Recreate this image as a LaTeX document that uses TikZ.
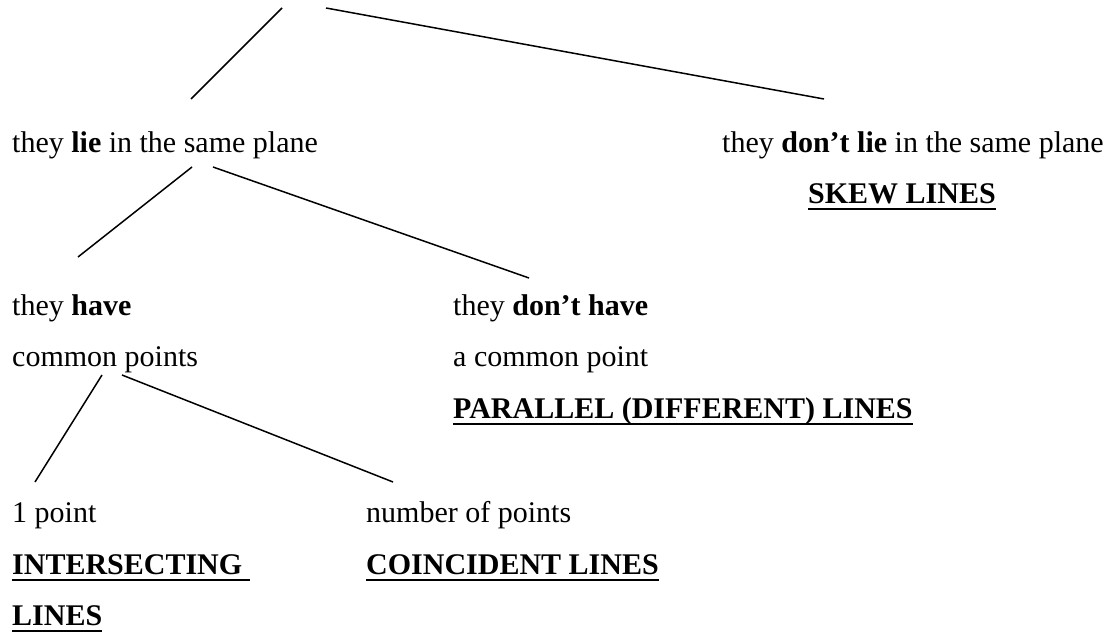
\documentclass[tikz,border=0pt]{standalone}
\usepackage{fontspec}
\setmainfont{Liberation Serif}
\begin{document}
\begin{tikzpicture}[x=1pt,y=-1pt,
  lbl/.style={anchor=base west,inner sep=0pt,font=\fontsize{30}{36}\selectfont},
  conn/.style={line width=1.5pt},
  ul/.style={line width=2.6pt}]
\useasboundingbox (0,0) rectangle (1109,634);
% labels
\node[lbl] (lie)    at (12,152)  {they \textbf{lie} in the same plane};
\node[lbl] (nolie)  at (722,152) {they \textbf{don’t lie} in the same plane};
\node[lbl] (skew)   at (808,203) {\textbf{SKEW LINES}};
\node[lbl] (have)   at (12,315)  {they \textbf{have}};
\node[lbl] (nohave) at (453,315) {they \textbf{don’t have}};
\node[lbl] (cp)     at (12,366)  {common points};
\node[lbl] (acp)    at (453,366) {a common point};
\node[lbl] (par)    at (453,418) {\textbf{PARALLEL (DIFFERENT) LINES}};
\node[lbl] (one)    at (12,522)  {1 point};
\node[lbl] (num)    at (366,522) {number of points};
\node[lbl] (inter)  at (12,574)  {\textbf{INTERSECTING}\hspace*{7.5pt}};
\node[lbl] (coin)   at (366,574) {\textbf{COINCIDENT LINES}};
\node[lbl] (lines)  at (12,625)  {\textbf{LINES}};
% underlines
\foreach \n in {skew,par,inter,coin,lines}
  \draw[ul] ([yshift=-6pt]\n.base west) -- ([yshift=-6pt]\n.base east);
% connector end points
\coordinate (t1) at (282,8);
\coordinate (t2) at (326,8);
\coordinate (a1) at (191,99);
\coordinate (a2) at (824,99);
\coordinate (b0) at (192,167);
\coordinate (b1) at (213,167);
\coordinate (c1) at (78,257);
\coordinate (c2) at (529,278);
\coordinate (d0) at (102,375);
\coordinate (d1) at (122,375);
\coordinate (e1) at (35,482);
\coordinate (e2) at (393,482);
% connectors
\draw[conn] (t1) -- (a1);
\draw[conn] (t2) -- (a2);
\draw[conn] (b0) -- (c1);
\draw[conn] (b1) -- (c2);
\draw[conn] (d0) -- (e1);
\draw[conn] (d1) -- (e2);
\end{tikzpicture}
\end{document}
